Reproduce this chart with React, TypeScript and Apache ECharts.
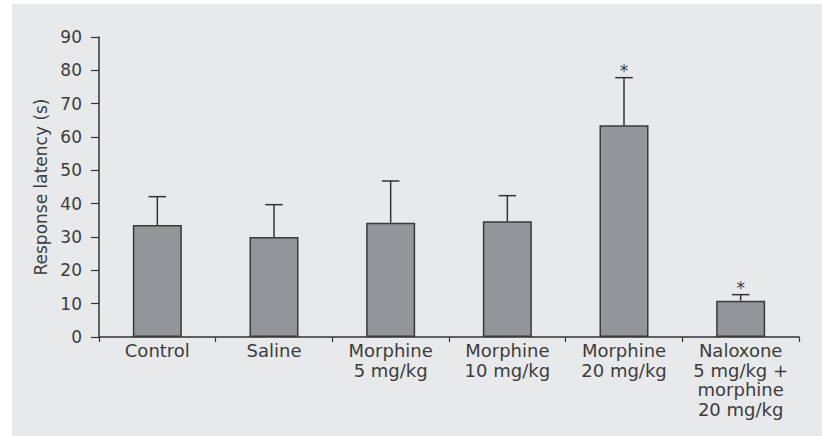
import React, { useEffect, useRef } from "react";
import * as echarts from "echarts";

const categories = [
  "Control",
  "Saline",
  "Morphine\n5 mg/kg",
  "Morphine\n10 mg/kg",
  "Morphine\n20 mg/kg",
  "Naloxone\n5 mg/kg +\nmorphine\n20 mg/kg",
];
const means = [33.6, 30.0, 34.3, 34.7, 63.5, 10.9];
const errors = [8.5, 9.7, 12.5, 7.7, 14.3, 1.8];
const significant = [false, false, false, false, true, true];
const yTicks = [0, 10, 20, 30, 40, 50, 60, 70, 80, 90];

const FONT = "'DejaVu Sans', sans-serif";
const TEXT = "#3c3c3c";

export default function App() {
  const ref = useRef<HTMLDivElement>(null);
  useEffect(() => {
    if (!ref.current) return;
    const chart = echarts.init(ref.current, null, { renderer: "svg" });
    const errData = means.map((m, i) => [i, m, m + errors[i], significant[i] ? 1 : 0]);
    chart.setOption({
      animation: false,
      backgroundColor: "#ffffff",
      textStyle: { fontFamily: FONT },
      graphic: [
        {
          type: "rect",
          z: -100,
          silent: true,
          shape: { x: 12, y: 4, width: 810, height: 432 },
          style: { fill: "#e8e9eb" },
        },
      ],
      grid: { left: 99, right: 23, top: 37, bottom: 99 },
      xAxis: {
        type: "category",
        data: categories,
        axisLine: { lineStyle: { color: "#333333", width: 1.5 } },
        axisTick: { show: true, length: 5, lineStyle: { color: "#333333", width: 1.2 } },
        axisLabel: {
          color: TEXT,
          fontSize: 18,
          lineHeight: 19.5,
          margin: 4,
          fontFamily: FONT,
          interval: 0,
        },
      },
      yAxis: {
        type: "value",
        min: yTicks[0],
        max: yTicks[yTicks.length - 1],
        interval: 10,
        name: "Response latency (s)",
        nameLocation: "middle",
        nameGap: 44,
        nameTextStyle: { color: TEXT, fontSize: 17, fontFamily: FONT },
        axisLine: { show: true, lineStyle: { color: "#333333", width: 1.5 } },
        axisTick: { show: true, length: 8, lineStyle: { color: "#333333", width: 1.2 } },
        axisLabel: { color: TEXT, fontSize: 17, margin: 17, fontFamily: FONT },
        splitLine: { show: false },
      },
      series: [
        {
          type: "bar",
          data: means,
          barWidth: "42%",
          itemStyle: { color: "#949598", borderColor: "#3a3a3a", borderWidth: 1.5 },
          z: 2,
        },
        {
          type: "custom",
          data: errData,
          z: 3,
          renderItem: (params: any, api: any) => {
            const idx = api.value(0);
            const lo = api.coord([idx, api.value(1)]);
            const hi = api.coord([idx, api.value(2)]);
            const capW = api.size([1, 0])[0] * 0.075;
            const style = { stroke: "#333333", lineWidth: 1.5 };
            const children: any[] = [
              { type: "line", shape: { x1: lo[0], y1: lo[1], x2: hi[0], y2: hi[1] }, style },
              { type: "line", shape: { x1: hi[0] - capW, y1: hi[1], x2: hi[0] + capW, y2: hi[1] }, style },
            ];
            if (api.value(3) === 1) {
              children.push({
                type: "text",
                style: {
                  text: "*",
                  x: hi[0],
                  y: hi[1] - 7,
                  align: "center",
                  verticalAlign: "middle",
                  fontSize: 17,
                  fontFamily: FONT,
                  fill: TEXT,
                },
              });
            }
            return { type: "group", children };
          },
        },
      ],
    });
    return () => chart.dispose();
  }, []);
  return (
    <div
      ref={ref}
      style={{ position: "absolute", left: 0, top: 0, width: 822, height: 436 }}
    />
  );
}
